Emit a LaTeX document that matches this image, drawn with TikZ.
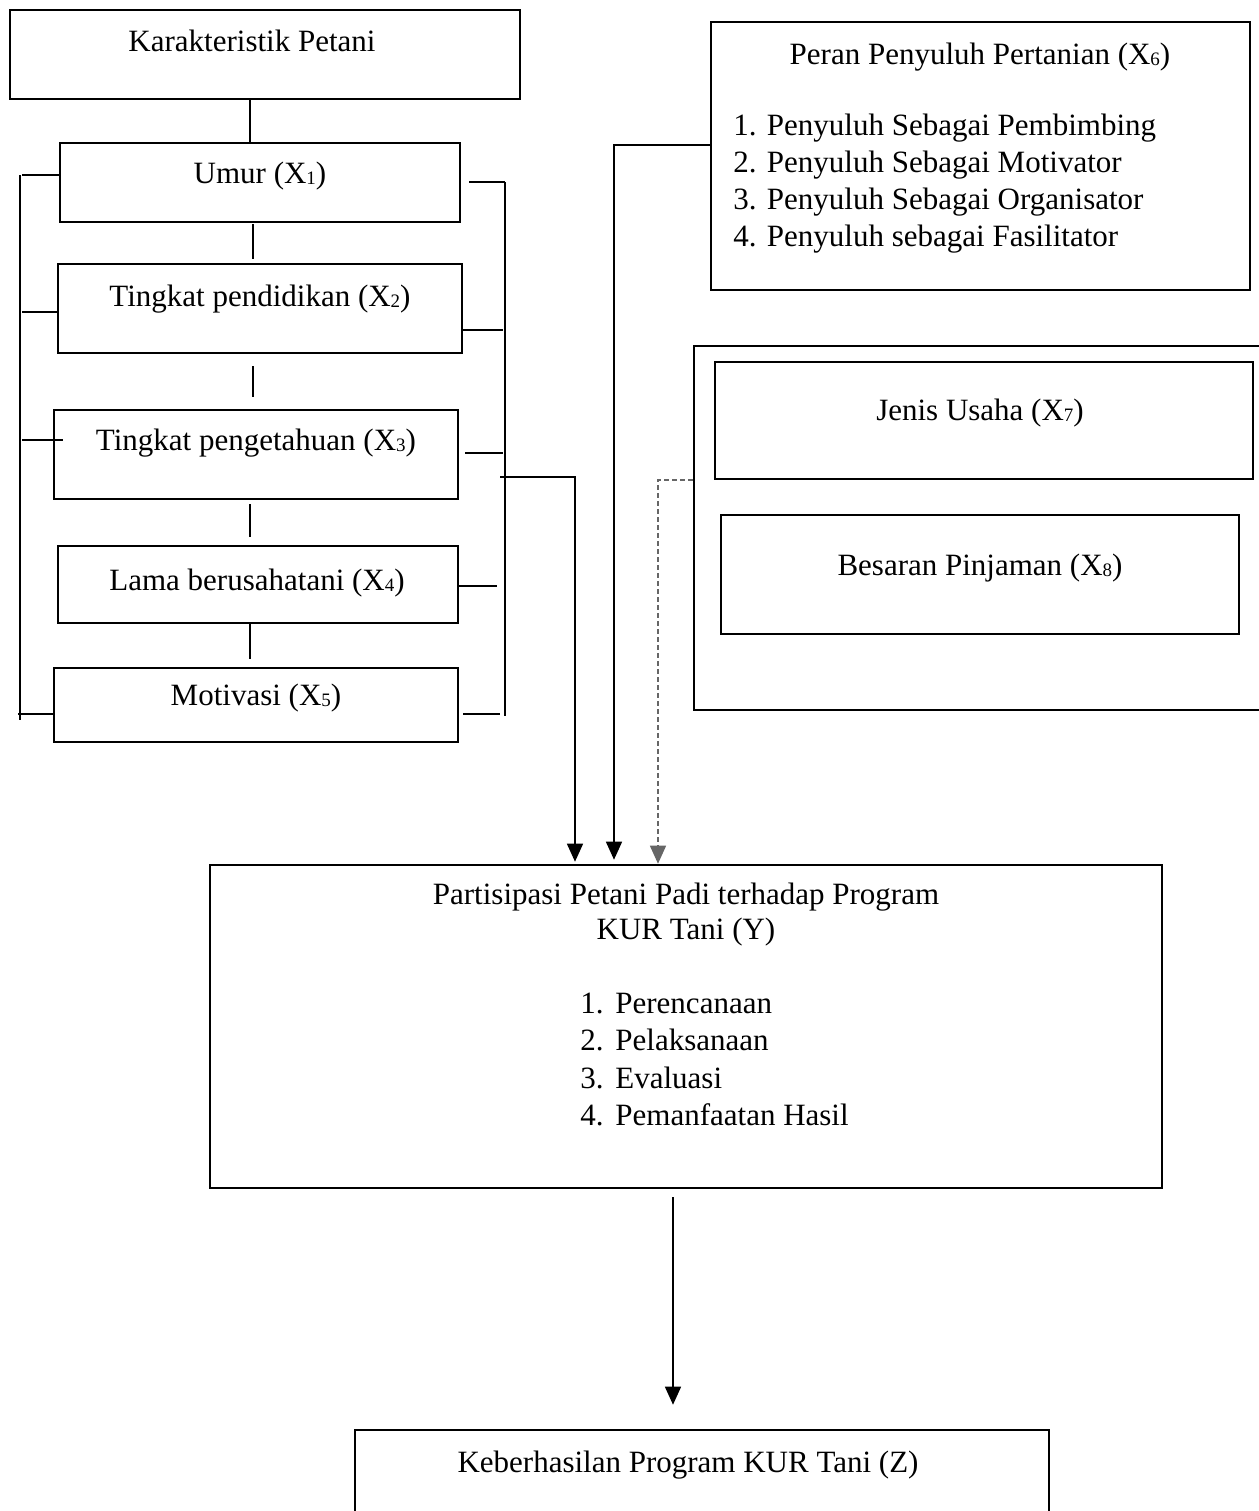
\documentclass[tikz,border=0pt]{standalone}
\usepackage{fontspec}
\setmainfont{Liberation Serif}
\usetikzlibrary{arrows.meta,fit}
\newcommand{\sbx}[1]{\raisebox{-0.8pt}{\fontsize{9.5}{9.5}\selectfont #1}}
\begin{document}
\begin{tikzpicture}[x=0.5pt,y=-0.5pt,
  boxst/.style={draw,line width=1.3pt,inner sep=0pt},
  lbl/.style={inner sep=0pt,anchor=base,font=\fontsize{15.5}{18.5}\selectfont},
  lbll/.style={inner sep=0pt,anchor=base west,font=\fontsize{15.5}{18.5}\selectfont},
  conn/.style={line width=0.7pt},
  arr/.style={line width=0.7pt,-{Triangle[width=8pt,length=9pt]}},
  darr/.style={line width=0.7pt,gray!80!black,dashed,dash pattern=on 2.5pt off 1.5pt,-{Triangle[width=8pt,length=9pt]}}]
\useasboundingbox (0,0) rectangle (1259,1511);
% left column boxes
\node[boxst,fit={(10,10) (520,99)}] (kp) {};
\node[lbl] (kpt) at (252,51) {Karakteristik Petani};
\node[boxst,fit={(60,143) (460,222)}] (u) {};
\node[lbl] (ut) at (260,183) {Umur (X\sbx{1})};
\node[boxst,fit={(58,264) (462,353)}] (pd) {};
\node[lbl] (pdt) at (260,306) {Tingkat pendidikan (X\sbx{2})};
\node[boxst,fit={(54,410) (458,499)}] (pg) {};
\node[lbl] (pgt) at (256,450) {Tingkat pengetahuan (X\sbx{3})};
\node[boxst,fit={(58,546) (458,623)}] (lb) {};
\node[lbl] (lbt) at (257,590) {Lama berusahatani (X\sbx{4})};
\node[boxst,fit={(54,668) (458,742)}] (mv) {};
\node[lbl] (mvt) at (256,705) {Motivasi (X\sbx{5})};
% Peran box
\node[boxst,fit={(711,22) (1250,290)}] (pr) {};
\node[lbl] (prt) at (980,64) {Peran Penyuluh Pertanian (X\sbx{6})};
\node[lbll] (pr1) at (733,135) {1. Penyuluh Sebagai Pembimbing};
\node[lbll] (pr2) at (733,172) {2. Penyuluh Sebagai Motivator};
\node[lbll] (pr3) at (733,209) {3. Penyuluh Sebagai Organisator};
\node[lbll] (pr4) at (733,246) {4. Penyuluh sebagai Fasilitator};
% outer right box
\node[boxst,fit={(694,346) (1280,710)}] (ob) {};
\node[boxst,fit={(715,362) (1253,479)}] (ju) {};
\node[lbl] (jut) at (980,420) {Jenis Usaha (X\sbx{7})};
\node[boxst,fit={(721,515) (1239,634)}] (bp) {};
\node[lbl] (bpt) at (980,575) {Besaran Pinjaman (X\sbx{8})};
% Partisipasi box
\node[boxst,fit={(210,865) (1162,1188)}] (ps) {};
\node[lbl] (pst1) at (686,904) {Partisipasi Petani Padi terhadap Program};
\node[lbl] (pst2) at (686,939) {KUR Tani (Y)};
\node[lbll] (ps1n) at (580,1013) {1.};
\node[lbll] (ps1) at (615,1013) {Perencanaan};
\node[lbll] (ps2n) at (580,1050) {2.};
\node[lbll] (ps2) at (615,1050) {Pelaksanaan};
\node[lbll] (ps3n) at (580,1088) {3.};
\node[lbll] (ps3) at (615,1088) {Evaluasi};
\node[lbll] (ps4n) at (580,1125) {4.};
\node[lbll] (ps4) at (615,1125) {Pemanfaatan Hasil};
% Keberhasilan box
\node[boxst,fit={(355,1430) (1049,1540)}] (kb) {};
\node[lbl] (kbt) at (688,1472) {Keberhasilan Program KUR Tani (Z)};
% vertical chain connectors
\draw[conn] (kp.south -| 250,0) -- (u.north -| 250,0);
\draw[conn] ([yshift=-0.5pt]u.south -| 253,0) -- ([yshift=2pt]pd.north -| 253,0);
\draw[conn] ([yshift=-6pt]pd.south -| 253,0) -- ([yshift=6pt]pg.north -| 253,0);
\draw[conn] ([yshift=-2pt]pg.south -| 250,0) -- ([yshift=4pt]lb.north -| 250,0);
\draw[conn] (lb.south -| 250,0) -- ([yshift=4pt]mv.north -| 250,0);
% left bracket
\coordinate (lt) at (20,175);
\coordinate (lbot) at (20,720);
\draw[conn] (lt) -- (lbot);
\draw[conn] (22,175) -- (u.west |- 0,175);
\draw[conn] (22,312) -- (pd.west |- 0,312);
\draw[conn] (22,440) -- ([xshift=5pt]pg.west |- 0,440);
\draw[conn] (18,714) -- (mv.west |- 0,714);
% right bracket
\coordinate (rt) at (505,182);
\coordinate (rbot) at (505,716);
\draw[conn] (rt) -- (rbot);
\draw[conn] ([xshift=4pt]u.east |- 0,182) -- (505,182);
\draw[conn] (pd.east |- 0,330) -- (503,330);
\draw[conn] ([xshift=3pt]pg.east |- 0,453) -- (503,453);
\draw[conn] (lb.east |- 0,586) -- (497,586);
\draw[conn] ([xshift=2pt]mv.east |- 0,714) -- (500,714);
% arrows into Partisipasi
\coordinate (rj) at (500,477);
\draw[arr] (rj) -- (575,477) -- ([yshift=1pt]ps.north -| 575,0);
\draw[arr] (pr.west |- 0,145) -- (614,145) -- ([yshift=2pt]ps.north -| 614,0);
\draw[darr] (ob.west |- 0,480) -- (658,480) -- (ps.north -| 658,0);
% arrow to Keberhasilan
\draw[arr] ([yshift=-4pt]ps.south -| 673,0) -- ([yshift=12pt]kb.north -| 673,0);
\end{tikzpicture}
\end{document}
